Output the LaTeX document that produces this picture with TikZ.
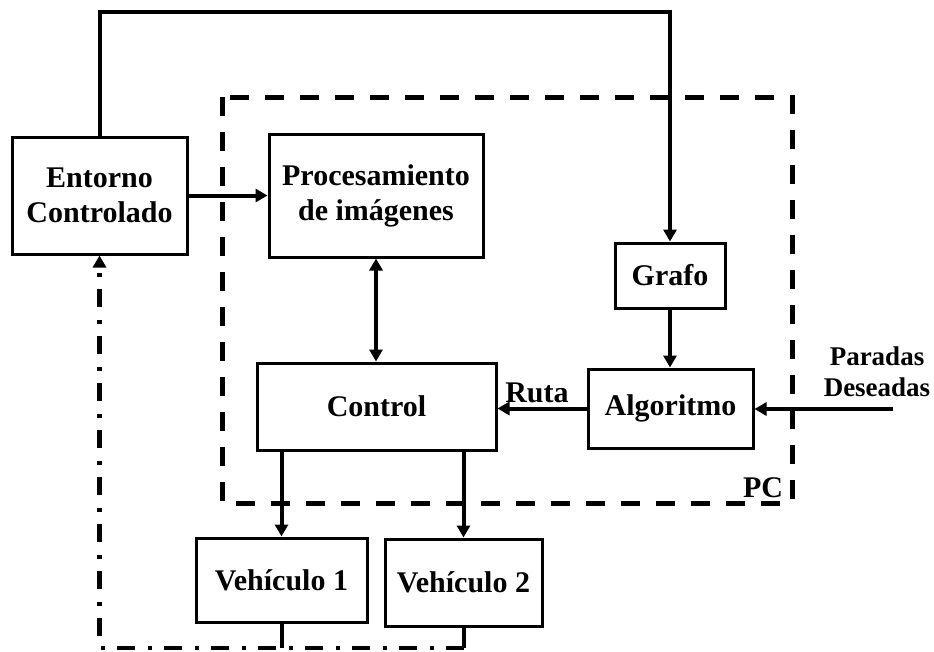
\documentclass[tikz,border=0pt]{standalone}
\usepackage{fontspec}
\setmainfont{Liberation Serif}
\usetikzlibrary{arrows.meta}
\tikzset{
  box/.style={draw, line width=3pt, align=center, inner sep=0pt,
    font=\fontsize{30}{35}\selectfont\bfseries},
  tip/.style={-{Triangle[length=12pt,width=13pt]}},
  conn/.style={line width=4pt},
  arr/.style={conn, tip},
  biarr/.style={conn, {Triangle[length=12pt,width=13pt]}-{Triangle[length=12pt,width=13pt]}},
  pcframe/.style={line width=5pt, dash pattern=on 19pt off 16pt},
  ret/.style={line width=4.5pt, dash pattern=on 18pt off 12pt on 4pt off 13pt},
  lbl/.style={inner sep=0pt, align=center, font=\fontsize{30}{35}\selectfont\bfseries}
}
\begin{document}
\begin{tikzpicture}[x=1pt, y=-1pt]
\useasboundingbox (0,0) rectangle (934,651);

% PC boundary
\draw[pcframe] (222,97) rectangle (792,503);
\node[lbl, anchor=base] (pc) at (763,497) {PC};

% blocks
\node[box, minimum width=175pt, minimum height=117pt] (ent) at (99.5,195.5) {Entorno\\Controlado};
\node[box, minimum width=214pt, minimum height=123pt] (proc) at (376,195.5) {Procesamiento\\de imágenes};
\node[box, minimum width=110pt, minimum height=65pt] (grafo) at (670,275.5) {Grafo};
\node[box, minimum width=165pt, minimum height=79pt] (alg) at (670.5,408.5) {Algoritmo};
\node[box, minimum width=239pt, minimum height=87pt] (ctrl) at (376.5,406.5) {Control};
\node[box, minimum width=171pt, minimum height=84pt] (v1) at (281.5,580) {Vehículo 1};
\node[box, minimum width=157pt, minimum height=87pt] (v2) at (463.5,582.5) {Vehículo 2};

% labels
\node[lbl, anchor=base] (ruta) at (537,402) {Ruta};
\node[lbl, font=\fontsize{27}{31}\selectfont\bfseries] (par) at (877,372) {Paradas\\Deseadas};

% helper points
\coordinate (topy) at (0,12);
\coordinate (src) at (893,409);
\coordinate (boty) at (0,648);
\coordinate (dd) at (ent.south |- boty);

% connectors
\draw[arr] (ent.north) -- (ent.north |- topy) -- (grafo.north |- topy) -- (grafo.north);
\draw[arr] (ent.east) -- (proc.west);
\draw[biarr] (proc.south) -- (ctrl.north -| proc.south);
\draw[arr] (grafo.south) -- (alg.north -| grafo.south);
\draw[arr] (alg.west) -- (ctrl.east |- alg.west);
\draw[arr] (src) -- (alg.east |- src);
\draw[arr] (v1.north |- ctrl.south) -- (v1.north);
\draw[arr] (v2.north |- ctrl.south) -- (v2.north);

% return path to the environment
\draw[conn] (v1.south) -- (v1.south |- boty);
\draw[conn] (v2.south) -- (v2.south |- boty);
\draw[ret, tip] (v2.south |- boty) -- (dd) -- (ent.south);
\end{tikzpicture}
\end{document}
